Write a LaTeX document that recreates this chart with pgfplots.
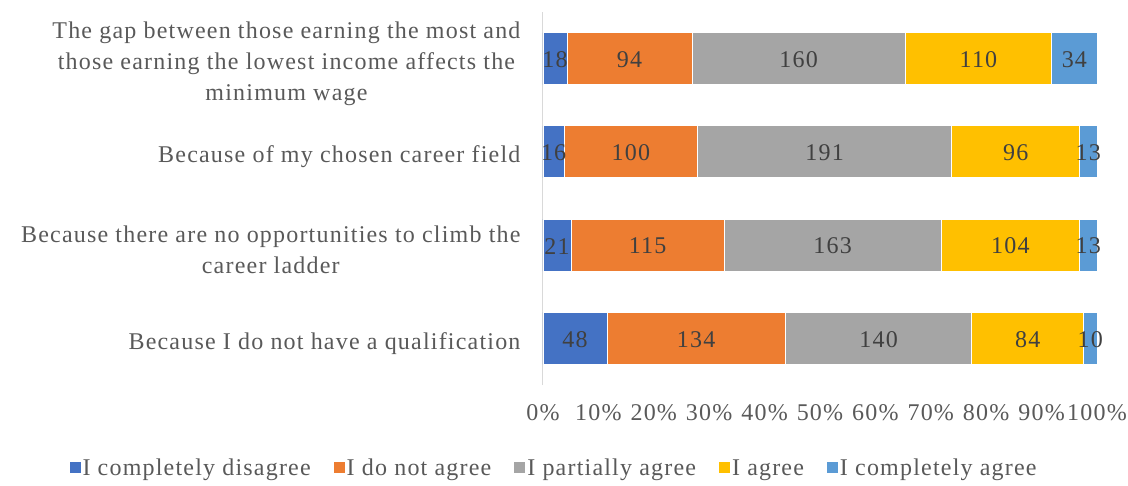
\documentclass[border=0pt]{standalone}
\usepackage{fontspec}
\setmainfont{Liberation Serif}[LetterSpace=5]
\usepackage{pgfplots}
\usepackage{pgfplotstable}
\pgfplotsset{compat=1.18}
\definecolor{c1}{HTML}{4472C4}
\definecolor{c2}{HTML}{ED7D31}
\definecolor{c3}{HTML}{A5A5A5}
\definecolor{c4}{HTML}{FFC000}
\definecolor{c5}{HTML}{5B9BD5}
\definecolor{txt}{HTML}{595959}
\definecolor{dlab}{HTML}{404040}
\definecolor{axl}{HTML}{D9D9D9}
% y: 4 = top row, 1 = bottom row; p = percent of 416 answers, n = count
\pgfplotstableread{
y p n
4 4.327 18
3 3.846 16
2 5.048 21
1 11.538 48
}\tA
\pgfplotstableread{
y p n
4 22.596 94
3 24.038 100
2 27.644 115
1 32.212 134
}\tB
\pgfplotstableread{
y p n
4 38.462 160
3 45.913 191
2 39.183 163
1 33.654 140
}\tC
\pgfplotstableread{
y p n
4 26.442 110
3 23.077 96
2 25.000 104
1 20.192 84
}\tD
\pgfplotstableread{
y p n
4 8.173 34
3 3.125 13
2 3.125 13
1 2.404 10
}\tE
\pgfplotsset{leg/.style={legend image code/.code={\fill[##1,draw=none] (0pt,-5.5pt) rectangle (11pt,5.5pt);}}}
\begin{document}
\begin{tikzpicture}
\begin{axis}[
  scale only axis, width=554pt, height=373pt,
  xbar stacked, bar width=52pt,
  xmin=0, xmax=100, ymin=0.5, ymax=4.5,
  separate axis lines,
  axis x line*=bottom, axis y line*=left,
  x axis line style={draw=none},
  y axis line style={draw=axl, line width=1pt},
  tick style={draw=none},
  font=\fontsize{24}{31}\selectfont,
  /pgf/number format/assume math mode=true,
  xtick={0,10,...,100},
  xticklabel={\pgfmathprintnumber{\tick}\%},
  xticklabel style={text=txt, yshift=-16pt},
  ytick={1,2,3,4},
  yticklabels={Because I do not have a qualification,
    {Because there are no opportunities to climb the\\career ladder},
    Because of my chosen career field,
    {The gap between those earning the most and\\those earning the lowest income affects the\\minimum wage}},
  yticklabel style={text=txt, align=center, xshift=-19pt, yshift=-5pt},
  nodes near coords={\pgfmathprintnumber{\pgfplotspointmeta}},
  point meta=explicit,
  every node near coord/.append style={anchor=center, text=dlab, yshift=-1pt},
  legend style={at={(0.02,-0.2225)}, anchor=center, draw=none,
    text=txt, legend columns=-1,
    /tikz/every even column/.append style={column sep=21pt},
    /tikz/every odd column/.append style={column sep=0pt}},
]
\addplot[fill=c1, draw=white, line width=0.8pt, leg] table[x=p,y=y,meta=n]{\tA};
\addplot[fill=c2, draw=white, line width=0.8pt, leg] table[x=p,y=y,meta=n]{\tB};
\addplot[fill=c3, draw=white, line width=0.8pt, leg] table[x=p,y=y,meta=n]{\tC};
\addplot[fill=c4, draw=white, line width=0.8pt, leg] table[x=p,y=y,meta=n]{\tD};
\addplot[fill=c5, draw=white, line width=0.8pt, leg] table[x=p,y=y,meta=n]{\tE};
\legend{I completely disagree, I do not agree, I partially agree, I agree, I completely agree}
\end{axis}
\pgfresetboundingbox
\path (current axis.south west) ++(-543pt,-100pt) rectangle ++(1128pt,485pt);
\end{tikzpicture}
\end{document}
